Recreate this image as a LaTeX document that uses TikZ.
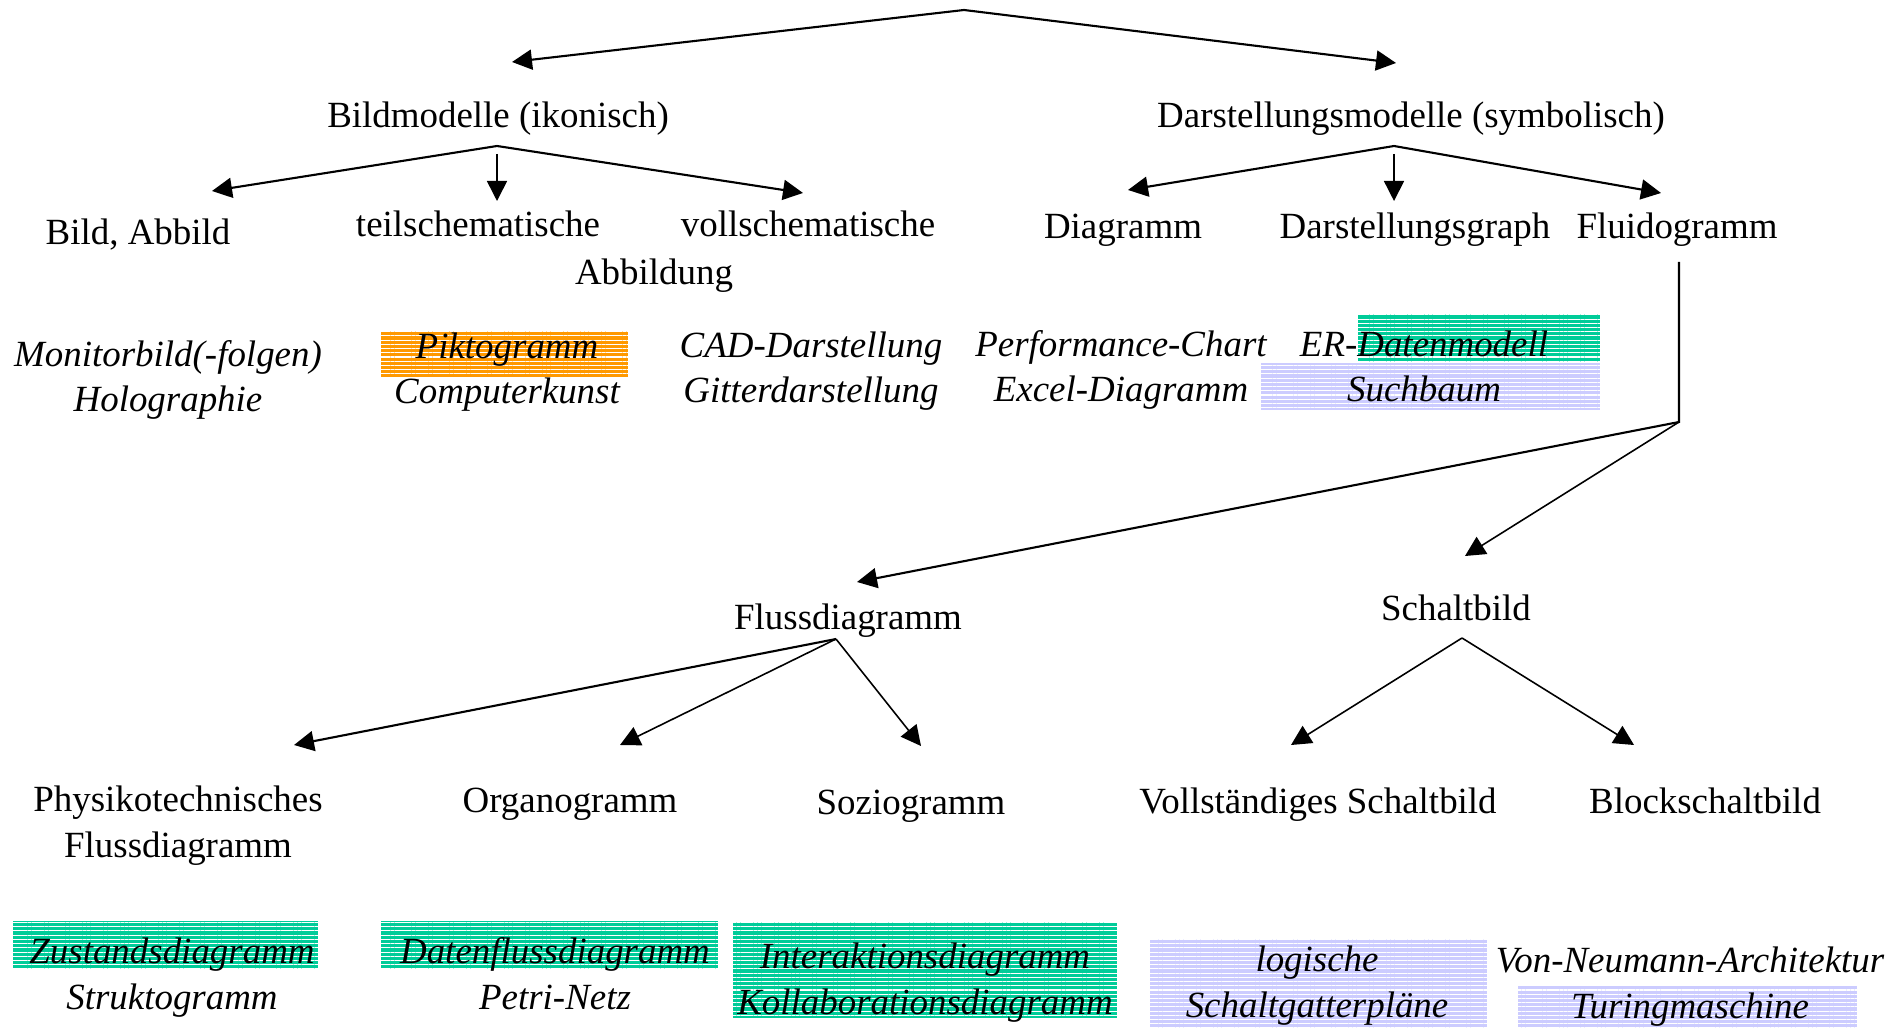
\documentclass[tikz,border=0pt]{standalone}
\usepackage{fontspec}
\setmainfont{Liberation Serif}
\usetikzlibrary{arrows.meta,patterns.meta}
\definecolor{piktoorange}{HTML}{FF9900}
\definecolor{umlgreen}{HTML}{00CC99}
\definecolor{graphblue}{HTML}{CCCCFF}
\tikzset{>={Triangle[length=2mm,width=2mm]}}
\begin{document}
\begin{tikzpicture}[x=0.01cm,y=-0.01cm,
    lbl/.style={anchor=base,inner sep=0pt,align=center,font=\fontsize{10.5}{12.8}\selectfont},
    ex/.style={lbl,font=\fontsize{10.5}{12.8}\selectfont\itshape},
    conn/.style={line width=0.6pt},
    thinconn/.style={line width=0.45pt},
    stripes/.style={preaction={fill=#1},pattern={Lines[distance=1.2pt,line width=0.3pt]},pattern color=white}]
    \useasboundingbox (0,0) rectangle (1892,1028);
    \path[stripes=piktoorange] (381,331) rectangle (628,377);
    \path[stripes=umlgreen] (1358,314) rectangle (1600,362);
    \path[stripes=graphblue] (1261,363) rectangle (1600,410);
    \path[stripes=umlgreen] (13,921) rectangle (318,969);
    \path[stripes=umlgreen] (381,921) rectangle (718,969);
    \path[stripes=umlgreen] (733,922) rectangle (1117,1018);
    \path[stripes=graphblue] (1150,939) rectangle (1487,1028);
    \path[stripes=graphblue] (1518,986) rectangle (1857,1028);
    \node[lbl] (bildm) at (498,128) {Bildmodelle (ikonisch)};
    \node[lbl] (darstm) at (1411,128) {Darstellungsmodelle (symbolisch)};
    \node[lbl] (bild) at (138,245) {Bild, Abbild};
    \node[lbl] (teil) at (478,237) {teilschematische};
    \node[lbl] (voll) at (808,237) {vollschematische};
    \node[lbl] (abb) at (654,285) {Abbildung};
    \node[lbl] (diag) at (1123,239) {Diagramm};
    \node[lbl] (dgraph) at (1415,239) {Darstellungsgraph};
    \node[lbl] (fluido) at (1677,239) {Fluidogramm};
    \node[ex] (monitor) at (168,412) {Monitorbild(-folgen)\\Holographie};
    \node[ex] (pikto) at (507,404) {Piktogramm\\Computerkunst};
    \node[ex] (cad) at (811,403) {CAD-Darstellung\\Gitterdarstellung};
    \node[ex] (perf) at (1121,402) {Performance-Chart\\Excel-Diagramm};
    \node[ex] (er) at (1424,402) {ER-Datenmodell\\Suchbaum};
    \node[lbl] (fluss) at (848,629) {Flussdiagramm};
    \node[lbl] (schalt) at (1456,620) {Schaltbild};
    \node[lbl] (phys) at (178,857) {Physikotechnisches\\Flussdiagramm};
    \node[lbl] (organo) at (570,812) {Organogramm};
    \node[lbl] (sozio) at (911,814) {Soziogramm};
    \node[lbl] (vollst) at (1318,813) {Vollständiges Schaltbild};
    \node[lbl] (block) at (1705,813) {Blockschaltbild};
    \node[ex] (zustand) at (172,1009) {Zustandsdiagramm\\Struktogramm};
    \node[ex] (datenfl) at (555,1009) {Datenflussdiagramm\\Petri-Netz};
    \node[ex] (interakt) at (925,1014) {Interaktionsdiagramm\\Kollaborationsdiagramm};
    \node[ex] (logisch) at (1317,1017) {logische\\Schaltgatterpläne};
    \node[ex] (vonneu) at (1690,1018) {Von-Neumann-Architektur\\Turingmaschine};
    \coordinate (top) at (964,10);
    \coordinate (bildtip) at (512,62);
    \coordinate (darsttip) at (1396,63);
    \coordinate (bildfork) at (497,146);
    \coordinate (bildtipL) at (212,191);
    \coordinate (bildtipR) at (803,193);
    \coordinate (teilstart) at (497,154);
    \coordinate (teiltip) at (497,201);
    \coordinate (darstfork) at (1394,146);
    \coordinate (diagtip) at (1128,190);
    \coordinate (fluidotip) at (1661,193);
    \coordinate (dgraphstart) at (1394,154);
    \coordinate (dgraphtip) at (1394,201);
    \coordinate (fluidstart) at (1679,262);
    \coordinate (fluidbend) at (1679,422);
    \coordinate (flusstip) at (857,582);
    \coordinate (schalttip) at (1465,556);
    \coordinate (flussfork) at (836,639);
    \coordinate (physttip) at (294,745);
    \coordinate (organotip) at (620,745);
    \coordinate (soziotip) at (921,746);
    \coordinate (schaltfork) at (1462,638);
    \coordinate (vollsttip) at (1291,745);
    \coordinate (blocktip) at (1634,745);
    \draw[conn,<->] (bildtip) -- (top) -- (darsttip);
    \draw[conn,<->] (bildtipL) -- (bildfork) -- (bildtipR);
    \draw[thinconn,->] (teilstart) -- (teiltip);
    \draw[conn,<->] (diagtip) -- (darstfork) -- (fluidotip);
    \draw[thinconn,->] (dgraphstart) -- (dgraphtip);
    \draw[conn,->] (fluidstart) -- (fluidbend) -- (flusstip);
    \draw[thinconn,->] (fluidbend) -- (schalttip);
    \draw[conn,->] (flussfork) -- (physttip);
    \draw[thinconn,->] (flussfork) -- (organotip);
    \draw[thinconn,->] (flussfork) -- (soziotip);
    \draw[thinconn,->] (schaltfork) -- (vollsttip);
    \draw[thinconn,->] (schaltfork) -- (blocktip);
\end{tikzpicture}
\end{document}
